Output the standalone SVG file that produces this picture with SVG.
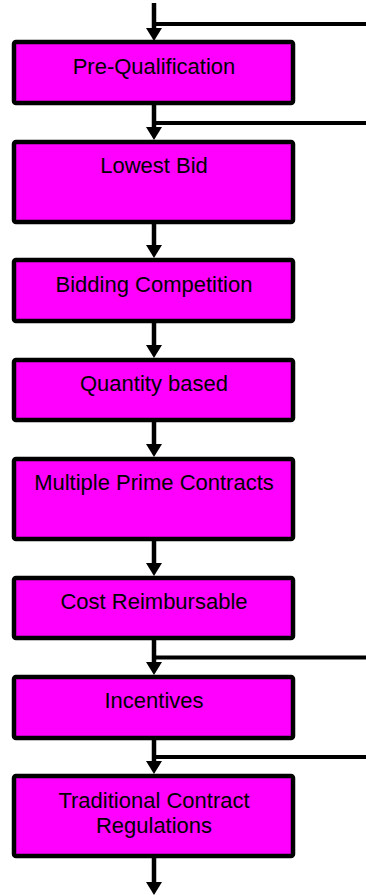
<svg xmlns="http://www.w3.org/2000/svg" width="366" height="895" viewBox="0 0 366 895">
<style>
.box{fill:#FF00FF;stroke:#000;stroke-width:4.5}
.lbl{font-family:"Liberation Sans",Arial,sans-serif;font-size:22px;fill:#000;text-anchor:middle}
.ln{stroke:#000;stroke-width:4.5;fill:none}
.hl{stroke:#000;stroke-width:4;fill:none}
</style>
<defs>
<marker id="ah" markerUnits="userSpaceOnUse" markerWidth="14" markerHeight="16" viewBox="0 0 14 16" refX="7" refY="8" orient="auto">
<path d="M0,0 L13,8 L0,16 z" fill="#000"/>
</marker>
</defs>
<rect width="366" height="895" fill="#fff"/>
<g id="connectors">
<line class="ln" x1="154" y1="3" x2="154" y2="35" marker-end="url(#ah)"/>
<line class="hl" x1="154" y1="24" x2="366" y2="24"/>
<line class="ln" x1="154" y1="103" x2="154" y2="134" marker-end="url(#ah)"/>
<line class="hl" x1="154" y1="123" x2="366" y2="123"/>
<line class="ln" x1="154" y1="222" x2="154" y2="252" marker-end="url(#ah)"/>
<line class="ln" x1="154" y1="321" x2="154" y2="352" marker-end="url(#ah)"/>
<line class="ln" x1="154" y1="420" x2="154" y2="451" marker-end="url(#ah)"/>
<line class="ln" x1="154" y1="539" x2="154" y2="570" marker-end="url(#ah)"/>
<line class="ln" x1="154" y1="638" x2="154" y2="669" marker-end="url(#ah)"/>
<line class="hl" x1="154" y1="657.5" x2="366" y2="657.5"/>
<line class="ln" x1="154" y1="738" x2="154" y2="768" marker-end="url(#ah)"/>
<line class="hl" x1="154" y1="757" x2="366" y2="757"/>
<line class="ln" x1="154" y1="856" x2="154" y2="889" marker-end="url(#ah)"/>
</g>
<g id="n1"><rect class="box" x="14" y="42" width="279" height="61" rx="2"/><text class="lbl" x="154" y="74">Pre-Qualification</text></g>
<g id="n2"><rect class="box" x="14" y="142" width="279" height="80" rx="2"/><text class="lbl" x="154" y="173">Lowest Bid</text></g>
<g id="n3"><rect class="box" x="14" y="260" width="279" height="61" rx="2"/><text class="lbl" x="154" y="292">Bidding Competition</text></g>
<g id="n4"><rect class="box" x="14" y="360" width="279" height="60" rx="2"/><text class="lbl" x="154" y="391">Quantity based</text></g>
<g id="n5"><rect class="box" x="14" y="459" width="279" height="80" rx="2"/><text class="lbl" x="154" y="490">Multiple Prime Contracts</text></g>
<g id="n6"><rect class="box" x="14" y="578" width="279" height="60" rx="2"/><text class="lbl" x="154" y="609">Cost Reimbursable</text></g>
<g id="n7"><rect class="box" x="14" y="677" width="279" height="61" rx="2"/><text class="lbl" x="154" y="708">Incentives</text></g>
<g id="n8"><rect class="box" x="14" y="776" width="279" height="80" rx="2"/><text class="lbl" x="154" y="808">Traditional Contract</text><text class="lbl" x="154" y="833">Regulations</text></g>
</svg>
